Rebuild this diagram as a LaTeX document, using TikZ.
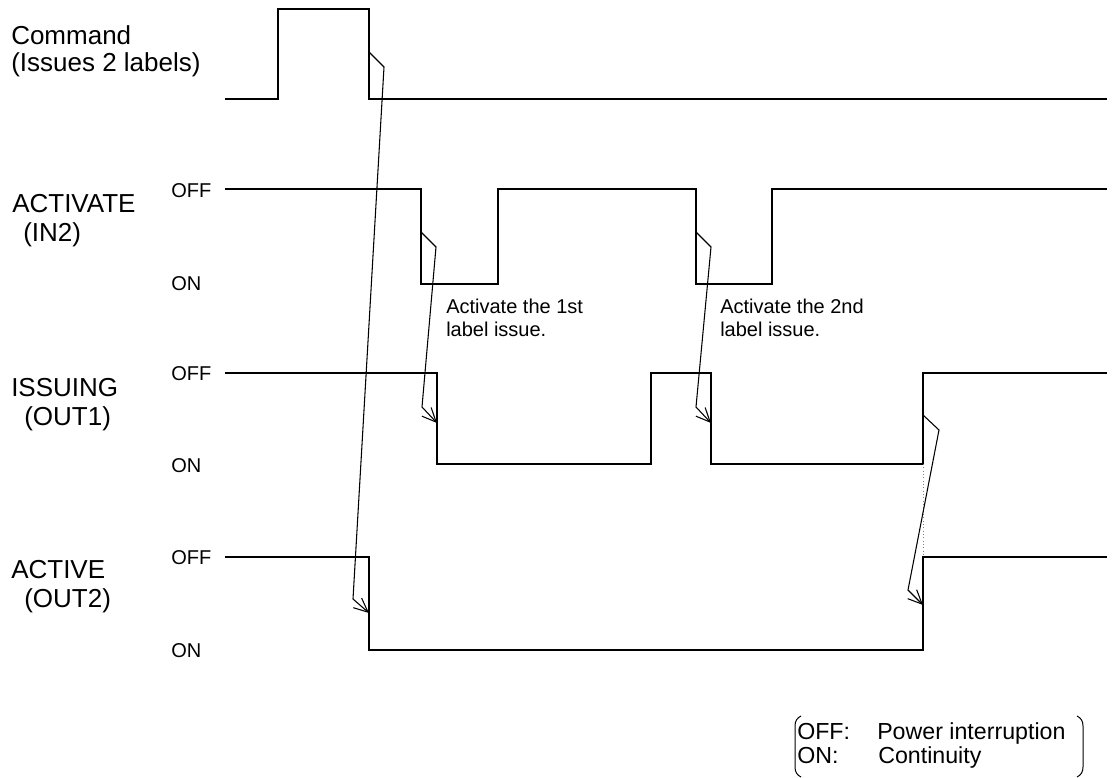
\documentclass[tikz,border=0pt]{standalone}
\usepackage{fontspec}
\setmainfont{Liberation Sans}
\usetikzlibrary{arrows.meta}
\begin{document}
\begin{tikzpicture}[x=0.75pt,y=-0.75pt,
  sig/.style={line width=1.5pt, line join=miter},
  flow/.style={line width=0.8pt, -{Straight Barb[length=10.5pt,width=9.5pt]}},
  brk/.style={line width=0.75pt},
  big/.style={font=\fontsize{19.5}{23}\selectfont, inner sep=0pt, anchor=base west},
  small/.style={font=\fontsize{15}{18}\selectfont, inner sep=0pt, anchor=base west},
  leg/.style={font=\fontsize{17.4}{21}\selectfont, inner sep=0pt, anchor=base west}]
\useasboundingbox (0,0) rectangle (1115,778);

% signal names
\node[big] (cmd1) at (11,45) {Command};
\node[big] (cmd2) at (11,71) {(Issues 2 labels)};
\node[big] (act1) at (12,212) {ACTIVATE};
\node[big] (act2) at (23,241) {(IN2)};
\node[big] (iss1) at (11,396) {ISSUING};
\node[big] (iss2) at (24,425) {(OUT1)};
\node[big] (av1) at (11,578) {ACTIVE};
\node[big] (av2) at (24,607) {(OUT2)};

% levels
\node[small] (off1) at (171,197) {OFF};
\node[small] (on1) at (171,290) {ON};
\node[small] (off2) at (171,380) {OFF};
\node[small] (on2) at (171,472) {ON};
\node[small] (off3) at (171,564) {OFF};
\node[small] (on3) at (171,657) {ON};

% notes
\node[small] (n1a) at (446,313) {Activate the 1st};
\node[small] (n1b) at (446,336) {label issue.};
\node[small] (n2a) at (720,313) {Activate the 2nd};
\node[small] (n2b) at (720,336) {label issue.};

% waveforms
\draw[sig] (225,99) -- (278,99) -- (278,9) -- (369,9) -- (369,99) -- (1107,99);
\draw[sig] (225,189) -- (421,189) -- (421,284) -- (498,284) -- (498,189) -- (696,189) -- (696,284) -- (772,284) -- (772,189) -- (1107,189);
\draw[sig] (225,373) -- (437,373) -- (437,464) -- (651,464) -- (651,373) -- (711,373) -- (711,464) -- (923,464) -- (923,373) -- (1107,373);
\draw[sig] (225,557) -- (369,557) -- (369,650) -- (923,650) -- (923,557) -- (1107,557);
\draw[dotted, line width=0.5pt, gray] (923,464) -- (923,557);

% causal arrows
\coordinate (s1) at (369,52);  \coordinate (e1) at (369,613);
\coordinate (s2) at (421,232); \coordinate (e2) at (437,423);
\coordinate (s3) at (696,232); \coordinate (e3) at (711,423);
\coordinate (s4) at (923,415); \coordinate (e4) at (923,605);
\draw[flow] (s1) -- ++(15,15) -- (353,599) -- (e1);
\draw[flow] (s2) -- ++(15,15) -- (422,407) -- (e2);
\draw[flow] (s3) -- ++(15,15) -- (696,407) -- (e3);
\draw[flow] (s4) -- ++(16,15) -- (908,590) -- (e4);

% legend
\node[leg] (l1) at (797,739) {OFF:};
\node[leg] (l2) at (877,739) {Power interruption};
\node[leg] (l3) at (797,763) {ON:};
\node[leg] (l4) at (878,763) {Continuity};
\draw[brk] (801,716) .. controls (797,718) and (795,721) .. (795,726) -- (795,767) .. controls (795,772) and (797,775) .. (801,777);
\draw[brk] (1077,716) .. controls (1081,718) and (1083,721) .. (1083,726) -- (1083,767) .. controls (1083,772) and (1081,775) .. (1077,777);
\end{tikzpicture}
\end{document}
